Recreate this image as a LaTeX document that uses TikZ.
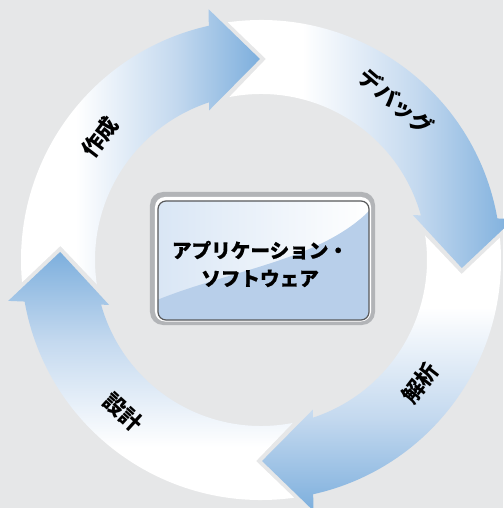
\documentclass[tikz,border=0pt]{standalone}
\usepackage{fontspec}
\newfontfamily\cjk{Noto Sans CJK JP}[FakeBold=0.8]
\newfontfamily\cjklbl{Noto Sans CJK JP}
\definecolor{bg}{HTML}{E6E7E8}
\definecolor{headblue}{HTML}{7DAFDD}
\definecolor{midblue}{HTML}{C4D9EF}
\definecolor{boxl}{HTML}{D9E6F5}
\definecolor{boxb}{HTML}{B8CFEA}
\definecolor{framegray}{HTML}{B2B4B7}
\definecolor{framedark}{HTML}{58595B}
\pgfdeclarehorizontalshading{arrowsh}{100bp}{color(0bp)=(white); color(25bp)=(white); color(38bp)=(white); color(58bp)=(midblue); color(75bp)=(headblue); color(100bp)=(headblue)}
% #1 = tip angle of this arrow, #2 = tip angle of the previous arrow (tail), #3 = shading angle
\newcommand\cyclearrow[3]{%
  \shade[shading=arrowsh, shading angle=#3]
    ({#1}:201) -- ({#1+18.78}:158.4) -- ({#1+17.9}:166)
    arc[start angle={#1+17.9}, end angle={#2+10.73}, radius=166]
    -- ({#2-1.71}:201.1) -- ({#2+7.64}:240)
    arc[start angle={#2+7.64}, end angle={#1+12.27}, radius=240]
    -- ({#1+11.49}:256.1) -- cycle;}
\tikzset{
  lbl/.style={font=\cjklbl\bfseries\fontsize{22}{24}\selectfont, text=black, inner sep=0pt},
  apptext/.style={font=\cjk\bfseries\fontsize{19.6}{28}\selectfont, text=black, align=center, inner sep=0pt}
}
\begin{document}
\begin{tikzpicture}[x=1pt,y=1pt]
\fill[bg] (-261,-248) rectangle (242,260);
\useasboundingbox (-261,-248) rectangle (242,260);
% cycle arrows
\cyclearrow{90.3}{177.7}{0}
\cyclearrow{-2.3}{90.3}{0}
\cyclearrow{-89.7}{-2.3}{-90}
\cyclearrow{177.7}{270.3}{90}
% labels
\node[lbl, rotate=52.6] (sakusei) at (142.6:202.6) {作成};
\node[lbl, rotate=-40.5] (debug) at (49.5:207.8) {デバッグ};
\node[lbl, rotate=52.3] (kaiseki) at (-37.7:201) {解析};
\node[lbl, rotate=-42.2] (sekkei) at (227.8:205) {設計};
% central box
\fill[framegray, rounded corners=13] (-111,68) rectangle (114,-65);
\fill[white, rounded corners=10] (-106,63) rectangle (110,-61.5);
\begin{scope}
\clip[rounded corners=8] (-103,59) rectangle (108,-60);
\shade[left color=boxl, right color=white] (-103,59) rectangle (108,-60);
\fill[boxb] (-104,-40) .. controls (-30,-10) and (60,0) .. (109,50) -- (109,-61) -- (-104,-61) -- cycle;
\end{scope}
\draw[framedark, line width=1.2, rounded corners=8] (-103,59) rectangle (108,-60);
\node[apptext] (app) at (-1,-4) {アプリケーション・\\ソフトウェア};
\end{tikzpicture}
\end{document}
